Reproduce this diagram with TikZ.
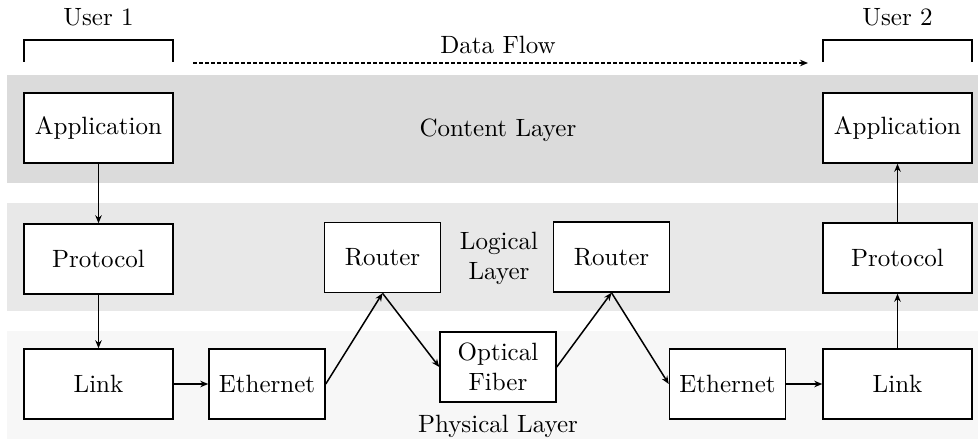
\documentclass[tikz,border=0pt]{standalone}
\usetikzlibrary{arrows.meta}
\begin{document}
\begin{tikzpicture}[x=0.4pt,y=-0.4pt,
  box/.style={draw, line width=0.6pt, fill=white, inner sep=0pt, text centered},
  wide/.style={box, minimum width=59.6pt, minimum height=28pt},
  narrow/.style={box, minimum width=46.4pt, minimum height=28pt, align=center},
  arr/.style={line width=0.6pt, -{Stealth[length=3.2pt,width=2.6pt]}},
  tharr/.style={line width=1pt, -{Stealth[length=3.2pt,width=2.6pt]}},
  lbl/.style={inner sep=0pt, align=center}]
\useasboundingbox (0,0) rectangle (978,439);
% layers
\fill[black!14] (7,75) rectangle (978,183);
\fill[black!9] (7,203) rectangle (978,311);
\fill[black!3] (7,331) rectangle (978,439);
\node[lbl] (cl) at (498,130) {Content Layer};
\node[lbl] (ll) at (499,258) {Logical\\Layer};
\node[lbl] (pl) at (498,426) {Physical Layer};
% users
\node[lbl] (u1) at (98.5,17) {User 1};
\node[lbl] (u2) at (897.5,17) {User 2};
\draw[line width=0.6pt] (24,62) -- (24,40) -- (173,40) -- (173,62);
\draw[line width=0.6pt] (823,62) -- (823,40) -- (972,40) -- (972,62);
\node[lbl] (df) at (498,45) {Data Flow};
\coordinate (dfs) at (193,63);
\coordinate (dfe) at (808,63);
\draw[line width=0.6pt, dash pattern=on 1.6pt off 0.8pt, -{Stealth[length=3.2pt,width=2.6pt]}] (dfs) -- (dfe);
% nodes
\node[wide] (app1) at (98.5,128) {Application};
\node[wide] (app2) at (897.5,128) {Application};
\node[wide] (pro1) at (98.5,259) {Protocol};
\node[wide] (pro2) at (897.5,258) {Protocol};
\node[wide] (lnk1) at (98.5,384) {Link};
\node[wide] (lnk2) at (897.5,384) {Link};
\node[narrow] (eth1) at (267,384) {Ethernet};
\node[narrow] (eth2) at (727.5,384) {Ethernet};
\node[narrow] (rt1) at (382.5,257.5) {Router};
\node[narrow] (rt2) at (611.5,257) {Router};
\node[narrow] (opt) at (498,367) {Optical\\Fiber};
% connectors
\draw[arr] (app1.south) -- (pro1.north);
\draw[arr] (pro1.south) -- (lnk1.north);
\draw[tharr] (lnk1.east) -- (eth1.west);
\draw[arr] (eth1.east) -- (rt1.south);
\draw[arr] (rt1.south) -- (opt.west);
\draw[arr] (opt.east) -- (rt2.south);
\draw[arr] (rt2.south) -- (eth2.west);
\draw[tharr] (eth2.east) -- (lnk2.west);
\draw[arr] (lnk2.north) -- (pro2.south);
\draw[arr] (pro2.north) -- (app2.south);
\end{tikzpicture}
\end{document}
